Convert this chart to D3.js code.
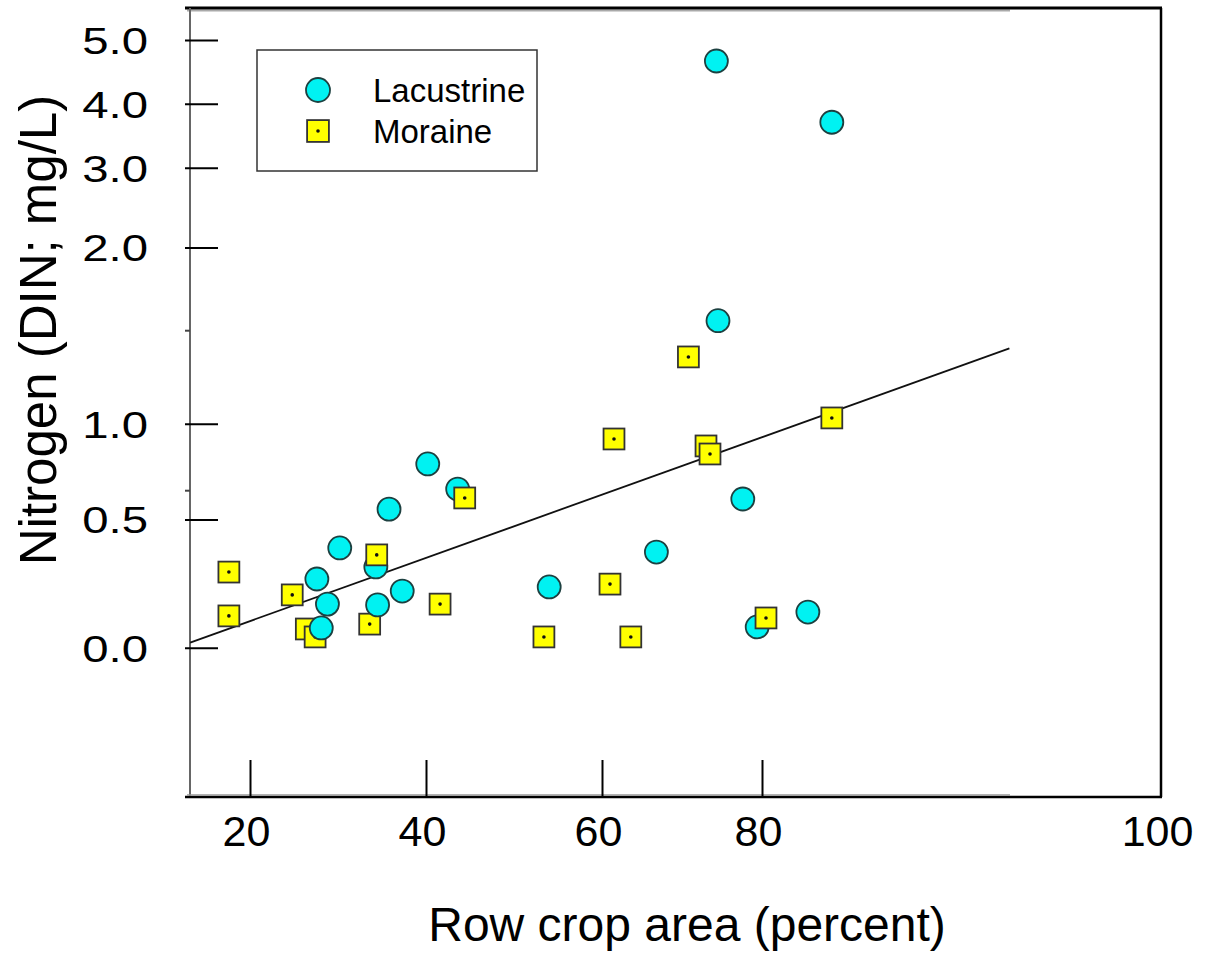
<!DOCTYPE html>
<html>
<head>
<meta charset="utf-8">
<script src="https://cdn.jsdelivr.net/npm/d3@7"></script>
<style>
  body { margin: 0; background: #fff; }
  svg { display: block; }
  text { font-family: "Liberation Sans", Arial, sans-serif; fill: #000; }
</style>
</head>
<body>
<svg id="chart" width="1211" height="956"></svg>
<script>
// Lacustrine sites (row crop %, DIN mg/L)
const lacustrineX = [74.3, 83.5, 74.5, 40.2, 43.6, 35.8, 77.6, 30.2, 66.8, 34.3, 27.6, 54.0, 37.3, 28.8, 34.5, 82.3, 79.4, 28.1];
const lacustrineY = [4.67, 3.71, 1.56, 0.85, 0.756, 0.59, 0.678, 0.389, 0.373, 0.315, 0.268, 0.237, 0.221, 0.170, 0.167, 0.139, 0.081, 0.077];

// Moraine sites
const moraineX = [70.8, 61.5, 73.0, 73.5, 83.5, 44.4, 34.4, 17.6, 24.8, 61.0, 41.6, 17.6, 80.2, 33.6, 26.4, 27.4, 53.4, 63.6];
const moraineY = [1.359, 0.943, 0.917, 0.887, 1.031, 0.687, 0.362, 0.295, 0.206, 0.248, 0.170, 0.124, 0.116, 0.092, 0.073, 0.042, 0.042, 0.042];

// fitted line end points
const fitX = [13.2, 92.4];
const fitY = [0.02, 1.405];

const xTicks = [20, 40, 60, 80, 100];
const yTicks = [0, 0.5, 1, 2, 3, 4, 5];
const yMinorTicks = [0.75, 1.5];
const seriesNames = ["Lacustrine", "Moraine"];

const svg = d3.select("#chart");

// the axes in the original are not evenly spaced, so use piecewise scales
const x = d3.scaleLinear()
    .domain([20, 40, 60, 80, 100])
    .range([250, 426, 602, 762, 1161]);

const y = d3.scaleLinear()
    .domain([0, 0.5, 0.75, 1, 1.5, 2, 3, 4, 5])
    .range([647.7, 519.5, 490.7, 423.7, 330.7, 247.5, 167.7, 103.7, 40]);

const frame = {left: 190, right: 1161, top: 8, bottom: 797, innerRight: 1010};

// frame
svg.append("line").attr("x1", 187).attr("x2", frame.innerRight).attr("y1", frame.top + 2.5).attr("y2", frame.top + 2.5)
    .attr("stroke", "#aaa").attr("stroke-width", 2);
svg.append("line").attr("x1", 185).attr("x2", frame.right + 1).attr("y1", frame.top).attr("y2", frame.top)
    .attr("stroke", "#000").attr("stroke-width", 3);
svg.append("line").attr("x1", frame.right).attr("x2", frame.right).attr("y1", frame.top).attr("y2", frame.bottom)
    .attr("stroke", "#000").attr("stroke-width", 2.5);
svg.append("line").attr("x1", frame.left).attr("x2", frame.left).attr("y1", frame.top).attr("y2", frame.bottom)
    .attr("stroke", "#666").attr("stroke-width", 2);
svg.append("line").attr("x1", 185).attr("x2", frame.right + 1).attr("y1", frame.bottom).attr("y2", frame.bottom)
    .attr("stroke", "#000").attr("stroke-width", 2.5);
svg.append("line").attr("x1", 187).attr("x2", frame.innerRight).attr("y1", frame.bottom - 2).attr("y2", frame.bottom - 2)
    .attr("stroke", "#999").attr("stroke-width", 1.5);

// x axis
const xAxis = svg.append("g")
    .attr("transform", `translate(0,${frame.bottom})`)
    .call(d3.axisBottom(x).tickValues(xTicks).tickSize(0).tickPadding(0));
xAxis.select(".domain").remove();
xAxis.selectAll(".tick line")
    .attr("y1", 0).attr("y2", -37)
    .attr("stroke", "#000").attr("stroke-width", 2)
    .attr("display", d => d === 100 ? "none" : null);
xAxis.selectAll(".tick text")
    .attr("y", 49).attr("dy", 0).attr("dx", -4)
    .attr("font-size", 43).attr("font-family", "Liberation Sans, Arial, sans-serif");

// y axis
const yAxis = svg.append("g")
    .attr("transform", `translate(${frame.left},0)`)
    .call(d3.axisLeft(y).tickValues(yTicks).tickSize(0).tickFormat(d3.format(".1f")));
yAxis.select(".domain").remove();
yAxis.selectAll(".tick line")
    .attr("x1", -5).attr("x2", 28)
    .attr("stroke", "#000").attr("stroke-width", 2);
yAxis.selectAll(".tick text")
    .attr("x", 0).attr("dy", "0.36em")
    .attr("transform", "translate(-42,0) scale(1.28,1)")
    .attr("font-size", 37).attr("font-family", "Liberation Sans, Arial, sans-serif");

svg.append("g").selectAll("line")
    .data(yMinorTicks)
    .join("line")
    .attr("x1", frame.left - 5).attr("x2", frame.left)
    .attr("y1", d => y(d)).attr("y2", d => y(d))
    .attr("stroke", "#444").attr("stroke-width", 2);

// titles
svg.append("text")
    .attr("x", 687).attr("y", 941)
    .attr("text-anchor", "middle")
    .attr("font-size", 48)
    .text("Row crop area (percent)");

svg.append("text")
    .attr("transform", "translate(56,330) rotate(-90)")
    .attr("text-anchor", "middle")
    .attr("font-size", 51)
    .text("Nitrogen (DIN; mg/L)");

// regression line
const line = d3.line().x(d => x(d[0])).y(d => y(d[1]));
svg.append("path")
    .datum(d3.zip(fitX, fitY))
    .attr("fill", "none")
    .attr("stroke", "#111")
    .attr("stroke-width", 1.8)
    .attr("d", line);

// points, drawn left to right so overlaps come out like the original
const points = d3.zip(lacustrineX, lacustrineY).map(d => ({x: d[0], y: d[1], s: "Lacustrine"}))
    .concat(d3.zip(moraineX, moraineY).map(d => ({x: d[0], y: d[1], s: "Moraine"})))
    .sort((a, b) => a.x - b.x);

function drawMarker(g, s, size) {
    if (s === "Lacustrine") {
        g.append("circle").attr("r", size / 2)
            .attr("fill", "#00f2f2").attr("stroke", "#1d4040").attr("stroke-width", 1.8);
    } else {
        g.append("rect").attr("x", -size / 2.2).attr("y", -size / 2.2)
            .attr("width", size / 1.1).attr("height", size / 1.1)
            .attr("fill", "#ffff00").attr("stroke", "#333").attr("stroke-width", 1.8);
        g.append("circle").attr("r", 1.8).attr("fill", "#111");
    }
}

svg.append("g").selectAll("g")
    .data(points)
    .join("g")
    .attr("transform", d => `translate(${x(d.x)},${y(d.y)})`)
    .each(function(d) { drawMarker(d3.select(this), d.s, 23); });

// legend
const legend = svg.append("g");
legend.append("rect")
    .attr("x", 257).attr("y", 50).attr("width", 280).attr("height", 121)
    .attr("fill", "#fff").attr("stroke", "#333").attr("stroke-width", 1.5);
const items = legend.selectAll("g.item")
    .data(seriesNames)
    .join("g")
    .attr("class", "item")
    .attr("transform", (d, i) => `translate(318,${90 + i * 41})`);
items.each(function(d) { drawMarker(d3.select(this), d, 24); });
items.append("text")
    .attr("x", 55).attr("dy", "0.36em")
    .attr("font-size", 33)
    .text(d => d);
</script>
</body>
</html>
